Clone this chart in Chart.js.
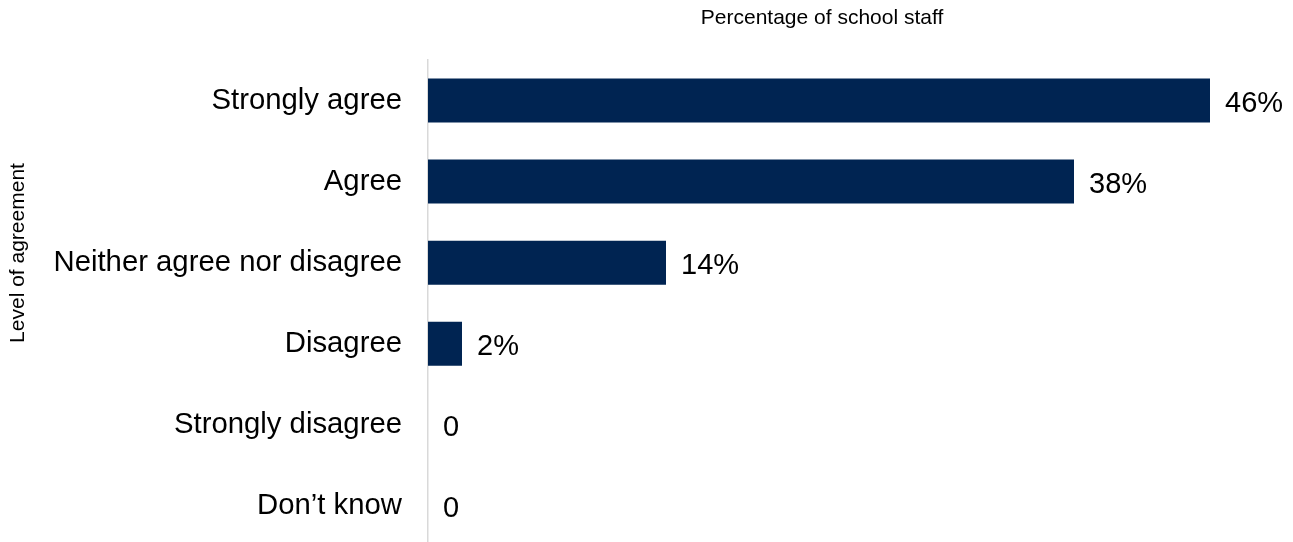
<!DOCTYPE html>
<html>
<head>
<meta charset="utf-8">
<script src="https://cdn.jsdelivr.net/npm/chart.js@4"></script>
<style>
    html, body { margin: 0; padding: 0; background: #fff; overflow: hidden; }
    #wrap { width: 1293px; height: 542px; overflow: hidden; }
</style>
</head>
<body>
<div id="wrap">
    <!-- taller than the window: the y axis keeps ~44px of label padding at the bottom, which gets cut off -->
    <canvas id="barChart" width="1293" height="590"></canvas>
</div>
<script>
const categories = ['Strongly agree', 'Agree', 'Neither agree nor disagree', 'Disagree', 'Strongly disagree', 'Don\u2019t know'];
const staffPercent = [46, 38, 14, 2, 0, 0];
const valueLabels = ['46%', '38%', '14%', '2%', '0', '0'];

const xTitle = 'Percentage of school staff';
const yTitle = 'Level of agreement';

const fontFamily = '"Liberation Sans", Arial, sans-serif';

// labels at the end of each bar
const barLabels = {
    id: 'barLabels',
    afterDatasetsDraw(chart) {
        const ctx = chart.ctx;
        const meta = chart.getDatasetMeta(0);
        ctx.save();
        ctx.font = '29px ' + fontFamily;
        ctx.fillStyle = '#000';
        ctx.textAlign = 'left';
        ctx.textBaseline = 'middle';
        meta.data.forEach((bar, i) => {
            ctx.fillText(valueLabels[i], bar.x + 15, bar.y + 3);
        });
        ctx.restore();
    }
};

// axis titles sit off-centre in the original, so draw them by hand
const axisTitles = {
    id: 'axisTitles',
    afterDraw(chart) {
        const ctx = chart.ctx;
        ctx.save();
        ctx.font = '21px ' + fontFamily;
        ctx.fillStyle = '#000';
        ctx.textAlign = 'center';
        ctx.textBaseline = 'middle';
        ctx.fillText(xTitle, 822, 18);
        ctx.translate(18, 253);
        ctx.rotate(-Math.PI / 2);
        ctx.fillText(yTitle, 0, 0);
        ctx.restore();
    }
};

new Chart('barChart', {
    type: 'bar',
    data: {
        labels: categories,
        datasets: [{
            data: staffPercent,
            backgroundColor: '#002452',
            borderWidth: 0,
            categoryPercentage: 1,
            barPercentage: 0.543
        }]
    },
    options: {
        indexAxis: 'y',
        responsive: false,
        maintainAspectRatio: false,
        animation: false,
        layout: {
            padding: { top: 60, right: 15, bottom: 0, left: 0 }
        },
        plugins: {
            legend: { display: false },
            tooltip: { enabled: false }
        },
        scales: {
            x: {
                display: false,
                min: 0,
                max: 50
            },
            y: {
                afterFit(scale) { scale.width = 428; },
                grid: { display: false, drawTicks: false },
                border: { display: true, color: '#d9d9d9', width: 1.5 },
                ticks: {
                    padding: 26,
                    color: '#000',
                    font: { family: fontFamily, size: 29.3 }
                }
            }
        }
    },
    plugins: [barLabels, axisTitles]
});
</script>
</body>
</html>
